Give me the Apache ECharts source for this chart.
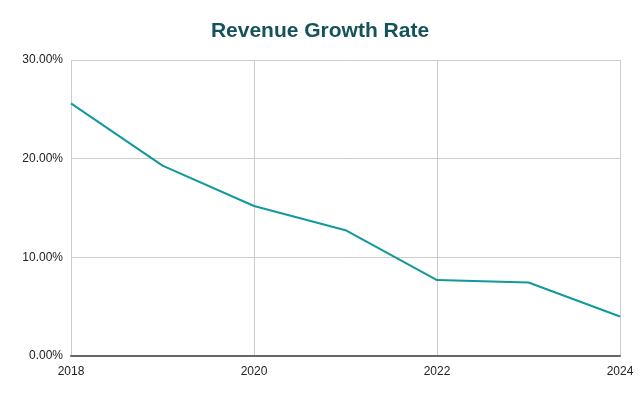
<!DOCTYPE html>
<html>
<head>
<meta charset="utf-8">
<script src="https://cdn.jsdelivr.net/npm/echarts@6/dist/echarts.min.js"></script>
<style>
  html, body { margin: 0; padding: 0; background: #fff; }
  #chart { width: 640px; height: 396px; }
</style>
</head>
<body>
<div id="chart"></div>
<script>
// data
var years = [2018, 2019, 2020, 2021, 2022, 2023, 2024];
var growthRate = [25.6, 19.3, 15.2, 12.75, 7.7, 7.45, 4.0];
var yTicks = [0, 10, 20, 30];

var chart = echarts.init(document.getElementById('chart'));

var option = {
    backgroundColor: '#ffffff',
    title: {
        text: 'Revenue Growth Rate',
        left: 'center',
        top: 16,
        textStyle: {
            fontFamily: 'Liberation Sans, Arial, sans-serif',
            fontSize: 21,
            fontWeight: 'bold',
            color: '#16525a'
        }
    },
    grid: {
        left: 71,
        right: 20,
        top: 60,
        bottom: 40
    },
    xAxis: {
        type: 'value',
        min: years[0],
        max: years[years.length - 1],
        interval: 2,
        axisLine: { show: true, lineStyle: { color: '#666', width: 2 } },
        axisTick: { show: false },
        axisLabel: {
            margin: 10,
            color: '#222',
            fontSize: 12,
            fontFamily: 'Liberation Sans, Arial, sans-serif',
            formatter: function (v) { return String(v); }
        },
        splitLine: { show: true, lineStyle: { color: '#cccccc', width: 1 } }
    },
    yAxis: {
        type: 'value',
        min: yTicks[0],
        max: yTicks[yTicks.length - 1],
        interval: 10,
        axisLine: { show: false },
        axisTick: { show: false },
        axisLabel: {
            margin: 8,
            color: '#222',
            fontSize: 12,
            fontFamily: 'Liberation Sans, Arial, sans-serif',
            formatter: function (v) { return v.toFixed(2) + '%'; }
        },
        splitLine: { show: true, lineStyle: { color: '#cccccc', width: 1 } }
    },
    series: [
        {
            name: 'Revenue Growth Rate',
            type: 'line',
            data: years.map(function (y, i) { return [y, growthRate[i]]; }),
            showSymbol: false,
            lineStyle: { color: '#11999b', width: 2 },
            itemStyle: { color: '#11999b' },
            animation: false
        }
    ]
};

chart.setOption(option);
</script>
</body>
</html>
